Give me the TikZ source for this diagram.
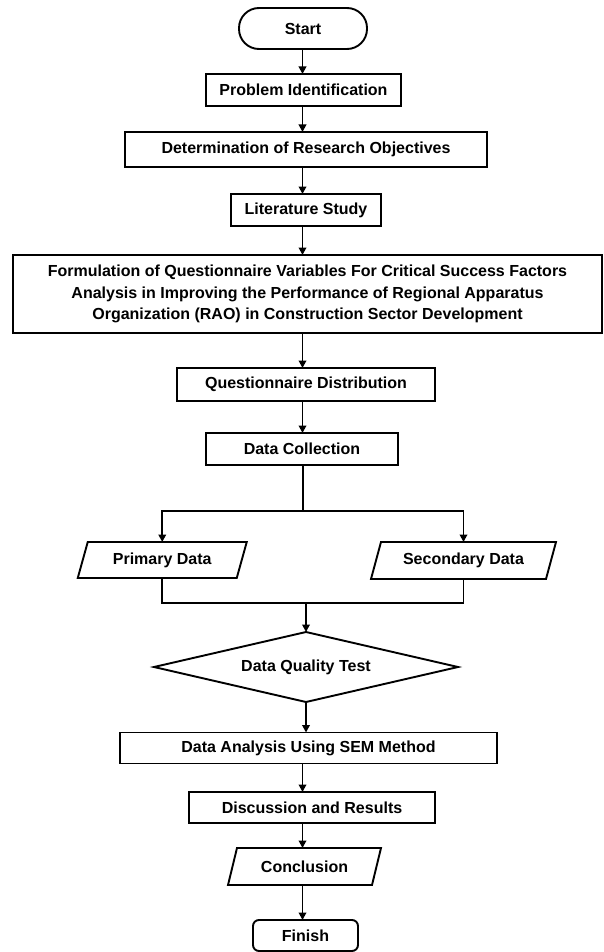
\documentclass[tikz,border=0pt]{standalone}
\usepackage{fontspec}
\setmainfont{Liberation Sans}
\usetikzlibrary{arrows.meta,calc}
\begin{document}
\begin{tikzpicture}[x=1pt,y=-1pt,
  every node/.style={font=\fontsize{16}{21.6}\selectfont\bfseries, inner sep=0pt, outer sep=0pt},
  box/.style={draw, line width=1.9pt, minimum height=32pt},
  line/.style={line width=1.9pt},
  shapeline/.style={line width=1.9pt, line join=miter},
  arr/.style={line width=1.9pt, -{Triangle[length=7.5pt,width=7.5pt]}}]
\useasboundingbox (0,0) rectangle (603,952);
\coordinate (axis) at (302.5,0);

\node[box, rounded corners=20pt, minimum width=128pt, minimum height=41pt] (start) at (303,28.5) {Start};
\node[box, minimum width=195pt] (pi) at (303.5,90) {Problem Identification};
\node[box, minimum width=362pt, minimum height=35pt] (ro) at (306,149.5) {Determination of Research Objectives};
\node[box, minimum width=150pt] (ls) at (306,210) {Literature Study};
\node[box, minimum width=589pt, minimum height=78pt, align=center] (fq) at (307.5,294)
  {Formulation of Questionnaire Variables For Critical Success Factors\\
   Analysis in Improving the Performance of Regional Apparatus\\
   Organization (RAO) in Construction Sector Development};
\node[box, minimum width=258pt, minimum height=33pt] (qd) at (306,384.5) {Questionnaire Distribution};
\node[box, minimum width=192pt] (dc) at (302,449) {Data Collection};

\node[minimum width=159pt, minimum height=36pt] (pd) at (162.25,560) {Primary Data};
\draw[shapeline] ([xshift=5pt]pd.north west) -- ([xshift=5pt]pd.north east)
  -- ([xshift=-5pt]pd.south east) -- ([xshift=-5pt]pd.south west) -- cycle;
\node[minimum width=175pt, minimum height=37pt] (sd) at (463.5,560.5) {Secondary Data};
\draw[shapeline] ([xshift=5pt]sd.north west) -- ([xshift=5pt]sd.north east)
  -- ([xshift=-5pt]sd.south east) -- ([xshift=-5pt]sd.south west) -- cycle;

\node[minimum width=304pt, minimum height=70pt] (dq) at (306,667) {Data Quality Test};
\draw[shapeline] (dq.north) -- (dq.east) -- (dq.south) -- (dq.west) -- cycle;

\node[box, minimum width=377pt, minimum height=31pt] (da) at (308.5,748) {Data Analysis Using SEM Method};
\node[box, minimum width=246pt, minimum height=31pt] (dr) at (312,807.5) {Discussion and Results};
\node[minimum width=144pt, minimum height=37pt] (cc) at (304.5,866.5) {Conclusion};
\draw[shapeline] ([xshift=4.5pt]cc.north west) -- ([xshift=4.5pt]cc.north east)
  -- ([xshift=-4.5pt]cc.south east) -- ([xshift=-4.5pt]cc.south west) -- cycle;
\node[box, rounded corners=6pt, minimum width=105pt, minimum height=31pt] (fin) at (305.5,935.5) {Finish};

% connectors
\draw[arr] (start.south -| axis) -- (pi.north -| axis);
\draw[arr] (pi.south -| axis) -- (ro.north -| axis);
\draw[arr] (ro.south -| axis) -- (ls.north -| axis);
\draw[arr] (ls.south -| axis) -- (fq.north -| axis);
\draw[arr] (fq.south -| axis) -- (qd.north -| axis);
\draw[arr] (qd.south -| axis) -- (dc.north -| axis);

\coordinate (split) at (303,511);
\draw[line] (dc.south -| split) -- (split);
\draw[arr] (split) -| (pd.north);
\draw[arr] (split) -| (sd.north);

\coordinate (merge) at (306,603);
\draw[line] (pd.south) |- (merge);
\draw[line] (sd.south) |- (merge);
\draw[arr] (merge) -- (dq.north);

\draw[arr] (dq.south) -- (da.north -| dq.south);
\draw[arr] (da.south -| axis) -- (dr.north -| axis);
\draw[arr] (dr.south -| axis) -- (cc.north -| axis);
\draw[arr] (cc.south -| axis) -- (fin.north -| axis);
\end{tikzpicture}
\end{document}
